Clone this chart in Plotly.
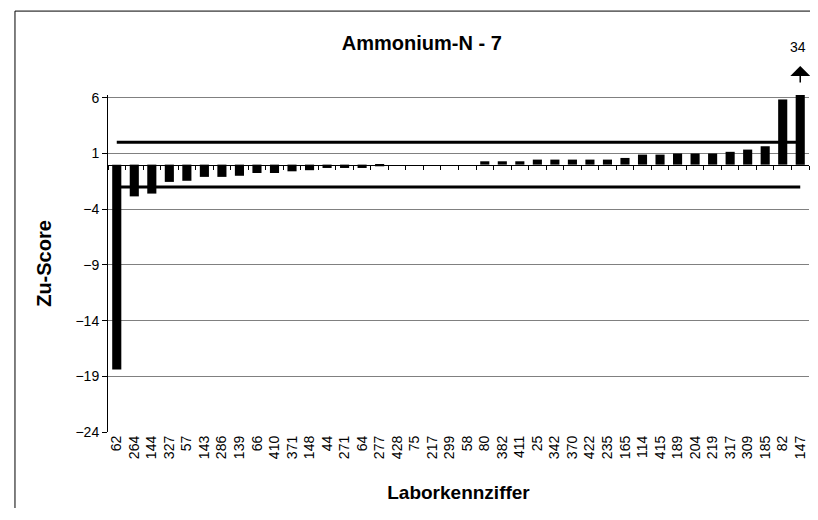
import plotly.graph_objects as go

# Laboratory codes (sorted by Zu-Score) and their scores
labs = ["62", "264", "144", "327", "57", "143", "286", "139", "66", "410",
        "371", "148", "44", "271", "64", "277", "428", "75", "217", "299",
        "58", "80", "382", "411", "25", "342", "370", "422", "235", "165",
        "114", "415", "189", "204", "219", "317", "309", "185", "82", "147"]
zu_score = [-18.4, -2.85, -2.6, -1.55, -1.45, -1.1, -1.1, -1.0, -0.75, -0.75,
            -0.6, -0.5, -0.3, -0.3, -0.3, -0.15, 0.0, 0.0, 0.0, 0.0,
            0.0, 0.3, 0.3, 0.3, 0.45, 0.45, 0.45, 0.45, 0.45, 0.6,
            0.9, 0.9, 1.0, 1.0, 1.0, 1.15, 1.35, 1.65, 5.85, 34.0]
upper_limit = [2] * len(labs)
lower_limit = [-2] * len(labs)
off_scale_label = "34"

FONT = "Liberation Sans, Arial, sans-serif"
Y_MIN, Y_MAX = -24, 6.25

fig = go.Figure()

fig.add_trace(go.Bar(
    x=labs, y=zu_score, marker=dict(color="black", line=dict(width=0)),
    showlegend=False, hoverinfo="x+y",
))

# limit lines at +/-2
for lim in (upper_limit, lower_limit):
    fig.add_trace(go.Scatter(
        x=labs, y=lim, mode="lines", line=dict(color="black", width=3),
        showlegend=False, hoverinfo="skip",
    ))

# invisible trace carrying the category axis that sits on the zero line
fig.add_trace(go.Scatter(
    x=labs, y=[0] * len(labs), xaxis="x2", mode="none",
    showlegend=False, hoverinfo="skip",
))

zero_pos = (0 - Y_MIN) / (Y_MAX - Y_MIN)
off_idx = len(labs) - 1  # the off-scale bar (category serial number)

# page body has an 8px margin; keep the figure small enough to avoid scrollbars
fig.update_layout(
    width=802, height=500,
    margin=dict(l=100, r=1, t=87, b=76),
    paper_bgcolor="white", plot_bgcolor="white",
    font=dict(family=FONT, size=14, color="black"),
    bargap=0.48,
    title=dict(text="<b>Ammonium-N - 7</b>", x=0.516, xanchor="center",
               y=0.93, yanchor="middle", font=dict(size=20)),
    xaxis=dict(
        type="category", range=[-0.5, len(labs) - 0.5],
        tickangle=-90, showline=False, ticks="", showgrid=False,
        title=dict(text="<b>Laborkennziffer</b>", font=dict(size=19), standoff=27),
        tickfont=dict(size=14),
    ),
    xaxis2=dict(
        type="category", range=[-0.5, len(labs) - 0.5], overlaying="x",
        anchor="free", position=zero_pos, side="bottom",
        showline=True, linecolor="black", linewidth=1,
        ticks="outside", tickson="boundaries", ticklen=4, tickcolor="black",
        showticklabels=False, showgrid=False,
    ),
    yaxis=dict(
        range=[Y_MIN, Y_MAX], tick0=-24, dtick=5, zeroline=False,
        showline=True, linecolor="black", linewidth=1,
        ticks="outside", ticklen=5, tickcolor="black",
        showgrid=True, gridcolor="#808080", gridwidth=1,
        title=dict(text="<b>Zu-Score</b>", font=dict(size=20), standoff=18),
        tickfont=dict(size=14),
    ),
    annotations=[
        dict(x=off_idx, xref="x", y=1.086, yref="paper", text=" ",
             showarrow=True, ax=0, ay=26, arrowhead=1, arrowsize=2.2,
             arrowwidth=1.5, arrowcolor="black"),
        dict(x=off_idx, xref="x", y=1.142, yref="paper", text=off_scale_label,
             showarrow=False, yanchor="middle", xshift=-2, font=dict(size=14)),
    ],
    # chart frame: only its left and top edges fall inside the picture
    shapes=[dict(type="path", xref="paper", yref="paper",
                 path="M -0.1327,-0.4 L -0.1327,1.249 L 1.05,1.249",
                 line=dict(color="black", width=1), layer="below")],
)

fig.write_html("out.html", config={"displayModeBar": False})
